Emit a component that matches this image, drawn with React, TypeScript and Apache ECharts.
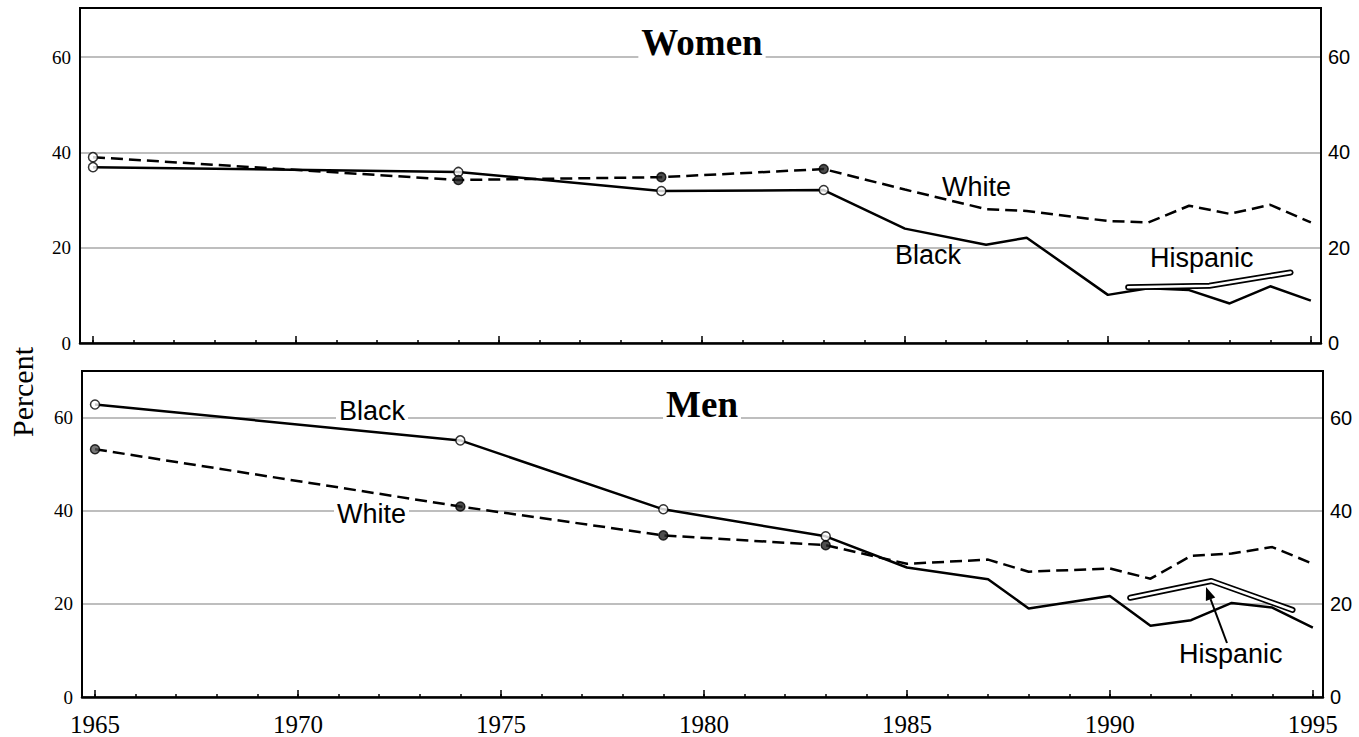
import React, { useEffect, useRef } from "react";
import * as echarts from "echarts";

// ---- data ----
const years = [1965, 1974, 1979, 1983, 1985, 1987, 1988, 1990, 1991, 1992, 1993, 1994, 1995];
const markerYears = [1965, 1974, 1979, 1983];
const womenBlack = [36.9, 35.9, 31.9, 32.1, 24.0, 20.6, 22.1, 10.1, 11.5, 11.1, 8.3, 11.9, 8.9];
const womenWhite = [39.0, 34.2, 34.8, 36.5, 32.2, 28.1, 27.7, 25.6, 25.3, 28.8, 27.1, 29.0, 25.3];
const menBlack = [62.8, 55.1, 40.3, 34.5, 27.8, 25.3, 19.0, 21.7, 15.3, 16.5, 20.2, 19.2, 14.9];
const menWhite = [53.2, 40.9, 34.7, 32.6, 28.6, 29.5, 26.9, 27.6, 25.4, 30.3, 30.8, 32.2, 28.6];
const hispYears = [1990.5, 1992.5, 1994.5];
const womenHisp = [11.7, 12.0, 14.8];
const menHisp = [21.3, 24.9, 18.7];
const yTicks = [0, 20, 40, 60];
const xMinorTicks = Array.from({ length: 31 }, (_, i) => 1965 + i);
const xMajorTicks = [1965, 1970, 1975, 1980, 1985, 1990, 1995];

const SERIF = "Liberation Serif";
const SANS = "Liberation Sans";

function pairs(xs: number[], ys: number[]) {
  return xs.map((x, i) => [x, ys[i]]);
}
function markers(ys: number[]) {
  return markerYears.map((y) => [y, ys[years.indexOf(y)]]);
}

export default function App() {
  const ref = useRef<HTMLDivElement>(null);
  useEffect(() => {
    if (!ref.current) return;
    const chart = echarts.init(ref.current, undefined, { renderer: "svg" });

    const xMin = 1964.68;
    const xMax = 1995.25;

    const mkX = (gridIndex: number, major: boolean, labels: boolean) => ({
      type: "value",
      gridIndex,
      position: "bottom",
      min: xMin,
      max: xMax,
      axisLine: major
        ? { show: false }
        : { show: true, lineStyle: { color: "#000", width: 2.5 } },
      axisTick: {
        show: true,
        inside: true,
        length: major ? 7 : 3,
        customValues: major ? xMajorTicks : xMinorTicks,
        lineStyle: { color: "#000", width: 1.5 },
      },
      axisLabel: labels
        ? {
            show: true,
            customValues: xMajorTicks,
            formatter: (v: number) => String(v),
            fontFamily: SERIF,
            fontSize: 25,
            color: "#000",
            margin: 15,
          }
        : { show: false },
      splitLine: { show: false },
    });

    const mkY = (gridIndex: number, max: number, right: boolean) => ({
      type: "value",
      gridIndex,
      min: 0,
      max,
      position: right ? "right" : "left",
      axisLine: { show: true, lineStyle: { color: "#000", width: 2 } },
      axisTick: { show: false, customValues: yTicks },
      axisLabel: {
        show: true,
        customValues: yTicks,
        fontFamily: right ? SANS : SERIF,
        fontSize: right ? 20 : 19,
        color: "#000",
        margin: right ? 7 : 9,
      },
      splitLine: right
        ? { show: false }
        : { show: true, lineStyle: { color: "#a8a8a8", width: 1.6 } },
    });

    const panelSeries = (
      xi: number,
      yi: number,
      black: number[],
      white: number[],
      hisp: number[],
      whiteFirstStyle: any
    ) => [
      {
        type: "line",
        xAxisIndex: xi,
        yAxisIndex: yi,
        data: pairs(years, black),
        showSymbol: false,
        lineStyle: { color: "#000", width: 2.5 },
        z: 3,
      },
      {
        type: "line",
        xAxisIndex: xi,
        yAxisIndex: yi,
        data: pairs(years, white),
        showSymbol: false,
        lineStyle: { color: "#000", width: 2.5, type: [12, 6] },
        z: 3,
      },
      {
        type: "line",
        xAxisIndex: xi,
        yAxisIndex: yi,
        data: pairs(hispYears, hisp),
        showSymbol: false,
        lineStyle: { color: "#000", width: 6, cap: "round", join: "round" },
        z: 4,
      },
      {
        type: "line",
        xAxisIndex: xi,
        yAxisIndex: yi,
        data: pairs(hispYears, hisp),
        showSymbol: false,
        lineStyle: { color: "#fff", width: 2.6, cap: "round", join: "round" },
        z: 5,
      },
      {
        type: "scatter",
        xAxisIndex: xi,
        yAxisIndex: yi,
        data: markers(black),
        symbol: "circle",
        symbolSize: 9,
        itemStyle: { color: "#fff", borderColor: "#000", borderWidth: 1.5 },
        z: 6,
      },
      {
        type: "scatter",
        xAxisIndex: xi,
        yAxisIndex: yi,
        data: markers(white).map((p, i) =>
          i === 0 ? { value: p, itemStyle: whiteFirstStyle } : { value: p }
        ),
        symbol: "circle",
        symbolSize: 9,
        itemStyle: { color: "#222", borderColor: "#000", borderWidth: 1.5 },
        z: 6,
      },
    ];

    const label = (text: string, x: number, y: number, opts: any = {}) => ({
      type: "text",
      x,
      y,
      z: 100,
      style: {
        text,
        fill: "#000",
        font: opts.font || `27px "${SANS}"`,
        textAlign: opts.align || "left",
        textVerticalAlign: "middle",
        backgroundColor: opts.bg ? "#fff" : undefined,
        padding: opts.bg ? [0, 3, 0, 3] : undefined,
      },
    });

    // arrow geometry (tail to tip)
    const tail = [1227, 643];
    const tip = [1206, 587];
    const dx = tip[0] - tail[0];
    const dy = tip[1] - tail[1];
    const len = Math.sqrt(dx * dx + dy * dy);
    const ux = dx / len;
    const uy = dy / len;
    const bx = tip[0] - ux * 13;
    const by = tip[1] - uy * 13;
    const px = -uy;
    const py = ux;

    chart.setOption({
      animation: false,
      backgroundColor: "#fff",
      grid: [
        { left: 80, top: 8, width: 1241, height: 335, show: true, borderColor: "#000", borderWidth: 2, backgroundColor: "transparent" },
        { left: 82, top: 371, width: 1241, height: 326, show: true, borderColor: "#000", borderWidth: 2, backgroundColor: "transparent" },
      ],
      xAxis: [mkX(0, false, false), mkX(0, true, false), mkX(1, false, false), mkX(1, true, true)],
      yAxis: [mkY(0, 70.3, false), mkY(0, 70.3, true), mkY(1, 70, false), mkY(1, 70, true)],
      series: [
        ...panelSeries(0, 0, womenBlack, womenWhite, womenHisp, { color: "#fff", borderColor: "#000", borderWidth: 1.5 }),
        ...panelSeries(2, 2, menBlack, menWhite, menHisp, { color: "#555", borderColor: "#000", borderWidth: 1.5 }),
      ],
      graphic: [
        label("Women", 702, 42, { font: `600 37px "${SERIF}"`, align: "center", bg: true }),
        label("Men", 702, 404, { font: `600 37px "${SERIF}"`, align: "center", bg: true }),
        label("White", 942, 187),
        label("Black", 895, 255),
        label("Hispanic", 1150, 258),
        label("Black", 336, 411, { bg: true }),
        label("White", 334, 514, { bg: true }),
        label("Hispanic", 1179, 654),
        {
          type: "text",
          x: 22,
          y: 392,
          rotation: Math.PI / 2,
          z: 100,
          style: {
            text: "Percent",
            fill: "#000",
            font: `30px "${SERIF}"`,
            textAlign: "center",
            textVerticalAlign: "middle",
          },
        },
        {
          type: "line",
          z: 100,
          shape: { x1: tail[0], y1: tail[1], x2: bx, y2: by },
          style: { stroke: "#000", lineWidth: 2 },
        },
        {
          type: "polygon",
          z: 100,
          shape: {
            points: [
              [tip[0], tip[1]],
              [bx + px * 5, by + py * 5],
              [bx - px * 5, by - py * 5],
            ],
          },
          style: { fill: "#000" },
        },
      ],
    });

    return () => chart.dispose();
  }, []);

  return (
    <div
      ref={ref}
      style={{ position: "absolute", left: 0, top: 0, width: 1359, height: 737, background: "#fff" }}
    />
  );
}
